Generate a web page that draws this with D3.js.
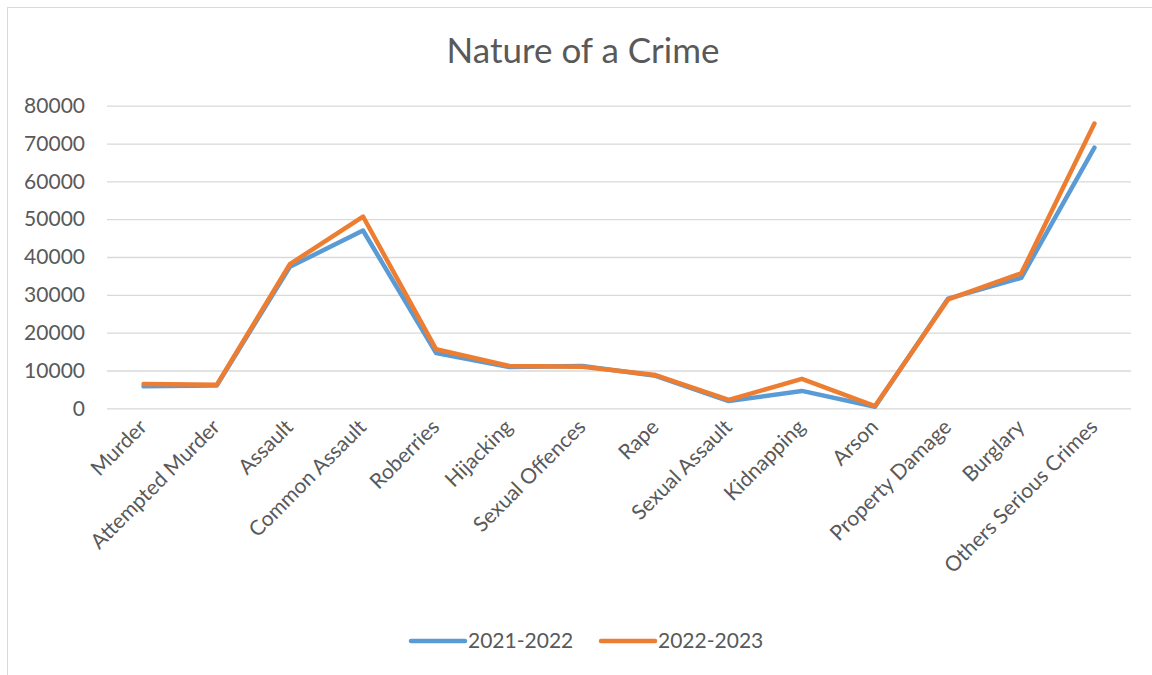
<!DOCTYPE html>
<html>
<head>
<meta charset="utf-8">
<script src="https://cdn.jsdelivr.net/npm/d3@7"></script>
<style>
  html, body { margin: 0; padding: 0; background: #fff; }
  svg { display: block; font-family: Lato, "Open Sans", sans-serif; }
</style>
</head>
<body>
<svg id="chart" width="1152" height="675"></svg>
<script>
// Crime categories and yearly counts
const categories = ["Murder", "Attempted Murder", "Assault", "Common Assault", "Roberries",
  "Hijacking", "Sexual Offences", "Rape", "Sexual Assault", "Kidnapping", "Arson",
  "Property Damage", "Burglary", "Others Serious Crimes"];
const values2122 = [5800, 6000, 37400, 47000, 14600, 10900, 11200, 8600, 1900, 4600, 400, 29000, 34500, 68900];
const values2223 = [6400, 6200, 38100, 50700, 15600, 11200, 11000, 8800, 2200, 7800, 600, 28800, 35700, 75300];
const yTicks = [0, 10000, 20000, 30000, 40000, 50000, 60000, 70000, 80000];
const seriesNames = ["2021-2022", "2022-2023"];
const seriesColors = ["#5B9BD5", "#ED7D31"];

const svg = d3.select("#chart");
const textColor = "#595959";
const gridColor = "#D9D9D9";
const labelSize = 21;

// Chart frame
svg.append("rect")
  .attr("x", 7.5).attr("y", 7.5)
  .attr("width", 1170).attr("height", 700)
  .attr("fill", "none").attr("stroke", gridColor).attr("stroke-width", 1);

// Title
svg.append("text")
  .attr("x", 583).attr("y", 63)
  .attr("text-anchor", "middle")
  .attr("fill", textColor)
  .attr("font-size", 35)
  .text("Nature of a Crime");

const plot = { left: 107, right: 1131, top: 105.7, bottom: 408.3 };

const x = d3.scalePoint()
  .domain(categories)
  .range([plot.left, plot.right])
  .padding(0.5);

const y = d3.scaleLinear()
  .domain([0, 80000])
  .range([plot.bottom, plot.top]);

// Horizontal gridlines and y labels
const yAxis = d3.axisLeft(y).tickValues(yTicks).tickSize(-(plot.right - plot.left)).tickPadding(22).tickFormat(d3.format("d"));
const gy = svg.append("g")
  .attr("transform", `translate(${plot.left},0)`)
  .call(yAxis);
gy.select(".domain").remove();
gy.selectAll(".tick line").attr("stroke", gridColor).attr("stroke-width", 1.3);
gy.selectAll(".tick text")
  .attr("fill", textColor)
  .attr("font-size", labelSize)
  .attr("font-family", "Lato, 'Open Sans', sans-serif");

// Category labels, rotated
const xAxis = d3.axisBottom(x).tickSize(0).tickPadding(0);
const gx = svg.append("g")
  .attr("transform", `translate(0,${plot.bottom})`)
  .call(xAxis);
gx.select(".domain").remove();
gx.selectAll(".tick text")
  .attr("fill", textColor)
  .attr("font-size", labelSize)
  .attr("font-family", "Lato, 'Open Sans', sans-serif")
  .attr("text-anchor", "end")
  .attr("dy", 0)
  .attr("transform", "translate(4,20) rotate(-45)");

// Series lines
const line = d3.line()
  .x((d, i) => x(categories[i]))
  .y(d => y(d));

[values2122, values2223].forEach((vals, k) => {
  svg.append("path")
    .datum(vals)
    .attr("fill", "none")
    .attr("stroke", seriesColors[k])
    .attr("stroke-width", 4.5)
    .attr("stroke-linecap", "round")
    .attr("stroke-linejoin", "round")
    .attr("d", line);
});

// Legend
const legendItems = [{ x: 411 }, { x: 601 }];
legendItems.forEach((item, k) => {
  const g = svg.append("g").attr("transform", `translate(${item.x},641)`);
  g.append("line")
    .attr("x1", 0).attr("x2", 54)
    .attr("y1", 0).attr("y2", 0)
    .attr("stroke", seriesColors[k])
    .attr("stroke-width", 4.5)
    .attr("stroke-linecap", "round");
  g.append("text")
    .attr("x", 57).attr("y", 7)
    .attr("fill", textColor)
    .attr("font-size", labelSize)
    .text(seriesNames[k]);
});
</script>
</body>
</html>
